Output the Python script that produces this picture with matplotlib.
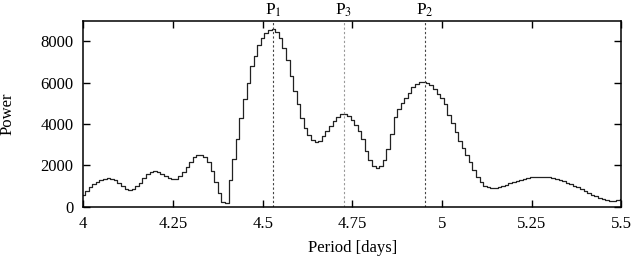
import numpy as np
import matplotlib
matplotlib.use("Agg")
import matplotlib.pyplot as plt

plt.rcParams['font.family'] = ['Liberation Serif', 'DejaVu Serif']
plt.rcParams['mathtext.fontset'] = 'stix'
plt.rcParams['font.size'] = 12

# periodogram, sampled every 0.01 d
period = np.round(np.arange(4.0, 5.505, 0.01), 2)
power = [
    580, 760, 930, 1080, 1210, 1300, 1360, 1380, 1350, 1270,      # 4.00-4.09
    1150, 1000, 860, 810, 860, 1000, 1170, 1370, 1560, 1690,      # 4.10-4.19
    1720, 1690, 1600, 1500, 1400, 1330, 1340, 1470, 1680, 1930,   # 4.20-4.29
    2180, 2390, 2500, 2500, 2400, 2150, 1750, 1200, 650, 220,     # 4.30-4.39
    180, 1300, 2300, 3300, 4300, 5200, 6000, 6800, 7300, 7800,    # 4.40-4.49
    8150, 8400, 8550, 8600, 8450, 8150, 7700, 7100, 6300, 5600,   # 4.50-4.59
    4950, 4300, 3800, 3480, 3250, 3150, 3200, 3400, 3650, 3900,   # 4.60-4.69
    4150, 4350, 4480, 4500, 4380, 4200, 3950, 3650, 3300, 2700,   # 4.70-4.79
    2250, 1980, 1890, 1950, 2250, 2800, 3500, 4350, 4750, 5000,   # 4.80-4.89
    5250, 5520, 5780, 5950, 6030, 6050, 6000, 5880, 5700, 5450,   # 4.90-4.99
    5250, 4950, 4450, 4050, 3600, 3200, 2850, 2500, 2150, 1800,   # 5.00-5.09
    1450, 1200, 1020, 930, 890, 900, 950, 1010, 1070, 1140,       # 5.10-5.19
    1200, 1260, 1310, 1360, 1400, 1430, 1450, 1460, 1460, 1450,   # 5.20-5.29
    1430, 1390, 1340, 1290, 1230, 1160, 1090, 1020, 960, 880,     # 5.30-5.39
    780, 680, 590, 500, 420, 350, 310, 290, 300, 330,             # 5.40-5.49
    370,                                                          # 5.50
]

peak_names = [r'P$_1$', r'P$_3$', r'P$_2$']
peak_periods = [4.53, 4.727, 4.953]
peak_colors = ['#444444', '#999999', '#444444']

fig = plt.figure(figsize=(6.34, 2.58), dpi=100)
ax = fig.add_axes([0.1314, 0.1988, 0.8486, 0.721])

ax.plot(period, power, drawstyle='steps-mid', color='#222222', lw=0.9)

for name, p, c in zip(peak_names, peak_periods, peak_colors):
    ax.axvline(p, color=c, ls=(0, (2, 2)), lw=0.8)
    ax.text(p, 9080, name, ha='center', va='bottom', fontsize=12.5)

ax.set_xlim(4, 5.5)
ax.set_ylim(0, 9000)
ax.set_xticks([4, 4.25, 4.5, 4.75, 5, 5.25, 5.5])
ax.set_xticklabels(['4', '4.25', '4.5', '4.75', '5', '5.25', '5.5'])
ax.set_yticks([0, 2000, 4000, 6000, 8000])
ax.tick_params(direction='in', top=True, right=True, length=5, width=1, pad=7)
for s in ax.spines.values():
    s.set_linewidth(1.1)

ax.set_xlabel('Period [days]', va='center')
ax.xaxis.set_label_coords(0.5, -0.222)
ax.set_ylabel('Power', va='center')
ax.yaxis.set_label_coords(-0.141, 0.5)

fig.savefig('out.png', dpi=100)
